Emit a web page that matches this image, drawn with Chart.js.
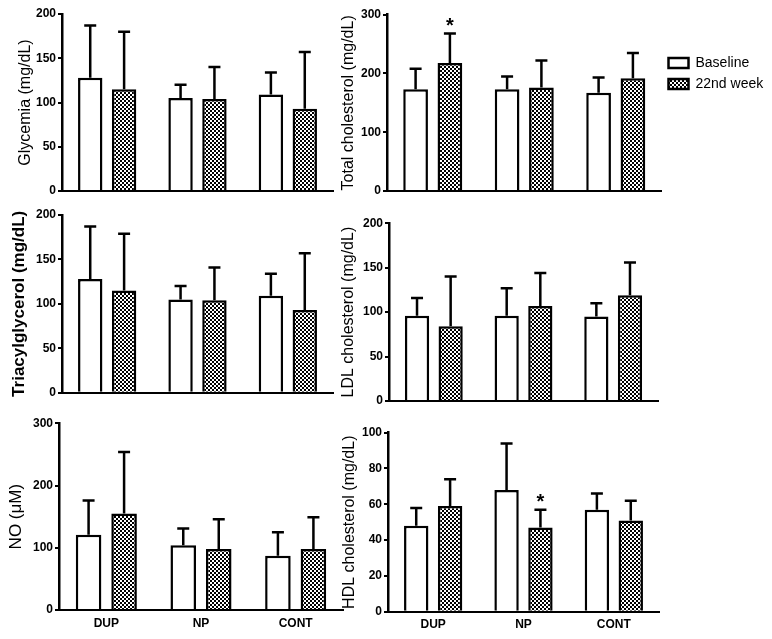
<!DOCTYPE html>
<html>
<head>
<meta charset="utf-8">
<script src="https://cdn.jsdelivr.net/npm/chart.js@4.4.0/dist/chart.umd.min.js"></script>
<style>
  body { margin: 0; background: #fff; width: 772px; height: 639px; position: relative; overflow: hidden; }
  canvas { position: absolute; }
</style>
</head>
<body>
<canvas id="glyc"></canvas>
<canvas id="chol"></canvas>
<canvas id="tri"></canvas>
<canvas id="ldl"></canvas>
<canvas id="no"></canvas>
<canvas id="hdl"></canvas>
<script>
// ===== Data =====
const groups = ["DUP", "NP", "CONT"];
const seriesNames = ["Baseline", "22nd week"];

const glycBase = [128, 105, 109];
const glycBaseSd = [59, 15, 25];
const glycWeek = [115, 104, 93];
const glycWeekSd = [65, 36, 64];

const cholBase = [173, 173, 167];
const cholBaseSd = [35, 22, 26];
const cholWeek = [218, 176, 192];
const cholWeekSd = [50, 46, 43];
const cholStars = [[1, 0]];

const triBase = [128, 105, 109];
const triBaseSd = [59, 15, 25];
const triWeek = [115, 104, 93];
const triWeekSd = [64, 37, 64];

const ldlBase = [96, 96, 95];
const ldlBaseSd = [20, 31, 15];
const ldlWeek = [84, 107, 119];
const ldlWeekSd = [56, 37, 37];

const noBase = [121, 104, 87];
const noBaseSd = [55, 27, 38];
const noWeek = [155, 98, 98];
const noWeekSd = [99, 48, 51];

const hdlBase = [48, 68, 57];
const hdlBaseSd = [10, 26, 9];
const hdlWeek = [59, 47, 51];
const hdlWeekSd = [15, 10, 11];
const hdlStars = [[1, 1]];

const FONT = "'Liberation Sans', Arial, sans-serif";

// ===== Checker fill =====
function makeChecker() {
  const tile = document.createElement("canvas");
  tile.width = 4;
  tile.height = 4;
  const c = tile.getContext("2d");
  c.fillStyle = "#fff";
  c.fillRect(0, 0, 4, 4);
  c.fillStyle = "#000";
  c.fillRect(0, 0, 2, 2);
  c.fillRect(2, 2, 2, 2);
  return c.createPattern(tile, "repeat");
}
const checks = makeChecker();

// ===== Error bars + asterisks =====
const errorBars = {
  id: "errorBars",
  afterDatasetsDraw(chart, args, opts) {
    const ctx = chart.ctx;
    const y = chart.scales.y;
    ctx.save();
    ctx.strokeStyle = "#000";
    ctx.lineWidth = 2.5;
    chart.data.datasets.forEach((ds, i) => {
      chart.getDatasetMeta(i).data.forEach((bar, j) => {
        const top = y.getPixelForValue(ds.data[j] + ds.sd[j]);
        ctx.beginPath();
        ctx.moveTo(bar.x, bar.y);
        ctx.lineTo(bar.x, top);
        ctx.moveTo(bar.x - 6, top);
        ctx.lineTo(bar.x + 6, top);
        ctx.stroke();
      });
    });
    ctx.fillStyle = "#000";
    ctx.font = "bold 20px " + FONT;
    ctx.textAlign = "center";
    ctx.textBaseline = "alphabetic";
    (opts.stars || []).forEach(([i, j]) => {
      const ds = chart.data.datasets[i];
      const bar = chart.getDatasetMeta(i).data[j];
      const top = y.getPixelForValue(ds.data[j] + ds.sd[j]);
      ctx.fillText("*", bar.x, top - 2);
    });
    ctx.restore();
  }
};

// ===== Panel builder =====
function panel(id, box, p) {
  const cv = document.getElementById(id);
  cv.width = box.w;
  cv.height = box.h;
  cv.style.left = box.x + "px";
  cv.style.top = box.y + "px";

  const barStyle = {
    borderColor: "#000",
    borderWidth: 2.5,
    borderSkipped: "start",
    categoryPercentage: 0.75,
    barPercentage: 0.72
  };

  const legend = p.legend
    ? {
        display: true,
        position: "right",
        align: "start",
        labels: { boxWidth: 20, boxHeight: 10, padding: 7, color: "#000", font: { family: FONT, size: 14 } },
        title: { display: true, text: "", font: { size: 12 }, padding: { top: 0, bottom: 20 } }
      }
    : { display: false };

  return new Chart(cv, {
    type: "bar",
    data: {
      labels: groups,
      datasets: [
        { label: seriesNames[0], data: p.base, sd: p.baseSd, backgroundColor: "#fff", ...barStyle },
        { label: seriesNames[1], data: p.week, sd: p.weekSd, backgroundColor: checks, ...barStyle }
      ]
    },
    options: {
      responsive: false,
      animation: false,
      layout: { padding: { top: p.padTop, right: p.padRight, bottom: 0, left: 0 } },
      plugins: {
        legend,
        tooltip: { enabled: false },
        errorBars: { stars: p.stars || [] }
      },
      scales: {
        x: {
          offset: true,
          grid: { display: false, drawTicks: false },
          border: { display: true, color: "#000", width: 2 },
          ticks: { display: !!p.showX, color: "#000", padding: 6, font: { family: FONT, size: 12, weight: "bold" } },
          afterFit(s) { s.height = p.xH; }
        },
        y: {
          min: 0,
          max: p.max,
          ticks: { stepSize: p.step, color: "#000", padding: 2, font: { family: FONT, size: 12, weight: "bold" } },
          grid: { drawOnChartArea: false, drawTicks: true, tickLength: 4, color: "#000", lineWidth: 2 },
          border: { display: true, color: "#000", width: 2.5 },
          title: {
            display: true,
            text: p.title,
            color: "#000",
            font: p.titleFont,
            padding: { top: p.titlePad, bottom: 0 }
          },
          afterFit(s) { s.width = p.yW; }
        }
      }
    },
    plugins: [errorBars]
  });
}

// ===== Panels =====
panel("glyc", { x: 0, y: 0, w: 345, h: 205 }, {
  base: glycBase, baseSd: glycBaseSd, week: glycWeek, weekSd: glycWeekSd,
  max: 200, step: 50, title: "Glycemia (mg/dL)", titleFont: { family: FONT, size: 16 }, titlePad: 16,
  padTop: 14, padRight: 12, xH: 14, yW: 62
});

panel("chol", { x: 330, y: 0, w: 442, h: 205 }, {
  base: cholBase, baseSd: cholBaseSd, week: cholWeek, weekSd: cholWeekSd, stars: cholStars,
  max: 300, step: 100, title: "Total cholesterol (mg/dL)", titleFont: { family: FONT, size: 16 }, titlePad: 9,
  padTop: 14.7, padRight: 0, xH: 14, yW: 57, legend: true
});

panel("tri", { x: 0, y: 205, w: 345, h: 200 }, {
  base: triBase, baseSd: triBaseSd, week: triWeek, weekSd: triWeekSd,
  max: 200, step: 50, title: "Triacylglycerol (mg/dL)", titleFont: { family: FONT, size: 17, weight: "bold" }, titlePad: 9,
  padTop: 10, padRight: 12, xH: 12.3, yW: 62
});

panel("ldl", { x: 330, y: 205, w: 340, h: 210 }, {
  base: ldlBase, baseSd: ldlBaseSd, week: ldlWeek, weekSd: ldlWeekSd,
  max: 200, step: 50, title: "LDL cholesterol (mg/dL)", titleFont: { family: FONT, size: 16 }, titlePad: 9,
  padTop: 18.3, padRight: 12, xH: 14, yW: 59
});

panel("no", { x: 0, y: 410, w: 355, h: 229 }, {
  base: noBase, baseSd: noBaseSd, week: noWeek, weekSd: noWeekSd,
  max: 300, step: 100, title: "NO (\u03bcM)", titleFont: { family: FONT, size: 17 }, titlePad: 6,
  padTop: 13.3, padRight: 12, xH: 29, yW: 59, showX: true
});

panel("hdl", { x: 330, y: 410, w: 340, h: 229 }, {
  base: hdlBase, baseSd: hdlBaseSd, week: hdlWeek, weekSd: hdlWeekSd, stars: hdlStars,
  max: 100, step: 20, title: "HDL cholesterol (mg/dL)", titleFont: { family: FONT, size: 16 }, titlePad: 10,
  padTop: 22.7, padRight: 11, xH: 27.3, yW: 58, showX: true
});
</script>
</body>
</html>
